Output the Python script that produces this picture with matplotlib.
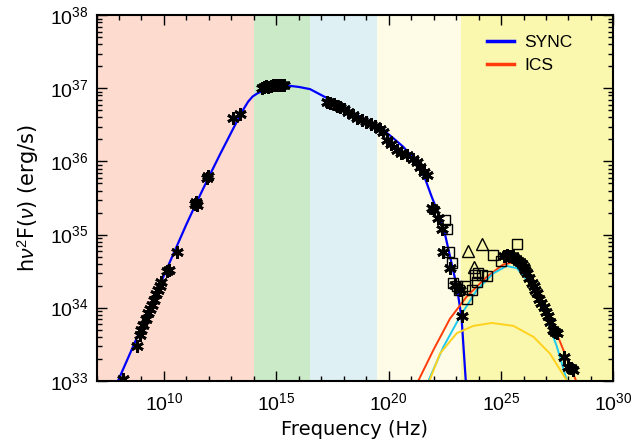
import numpy as np
import matplotlib
matplotlib.use("Agg")
import matplotlib.pyplot as plt
from matplotlib.ticker import FixedLocator, NullFormatter, FuncFormatter

plt.rcParams['mathtext.fontset'] = 'custom'
plt.rcParams['mathtext.rm'] = 'Liberation Sans'
plt.rcParams['mathtext.it'] = 'Liberation Sans:italic'
plt.rcParams['mathtext.bf'] = 'Liberation Sans:bold'
plt.rcParams['font.family'] = ['Liberation Sans', 'DejaVu Sans']

# ---- data (log10 frequency [Hz], log10 luminosity [erg/s]) ----
band_edges = [7, 14.0, 16.5, 19.5, 23.2, 30]
band_colors = ['#FDDBCF', '#CBEAC7', '#DEF0F4', '#FEFCE7', '#FAF7AE']

sync_lx = [7.96, 9.0, 10.0, 11.0, 11.5, 12.0, 12.5, 13.0, 13.3, 13.55, 13.75, 13.95, 14.15,
           14.42, 14.9, 15.46, 16.0, 16.5, 17.24, 17.8, 18.5, 19.2, 19.76, 20.2, 20.65,
           21.0, 21.39, 21.65, 21.91, 22.21, 22.51, 22.73, 23.03, 23.17, 23.25, 23.43]
sync_ly = [33.0, 33.73, 34.44, 35.14, 35.47, 35.79, 36.1, 36.4, 36.58, 36.72, 36.82, 36.89, 36.93,
           36.97, 37.02, 37.04, 37.02, 36.99, 36.87, 36.76, 36.65, 36.54, 36.43, 36.32, 36.2,
           36.08, 35.91, 35.74, 35.52, 35.29, 35.0, 34.70, 34.29, 34.01, 33.83, 33.0]

ics_lx = [21.32, 21.99, 22.73, 23.47, 24.36, 25.10, 25.55, 26.15, 26.74, 27.33, 27.63, 27.93, 28.34]
ics_ly = [33.0, 33.42, 33.85, 34.15, 34.42, 34.59, 34.62, 34.47, 34.15, 33.74, 33.53, 33.30, 33.0]

cyan_lx = [21.77, 22.43, 23.18, 23.92, 24.66, 25.25, 25.70, 26.29, 26.89, 27.48, 27.93]
cyan_ly = [33.0, 33.46, 33.88, 34.24, 34.47, 34.57, 34.54, 34.33, 33.97, 33.47, 33.0]

gold_lx = [21.82, 22.28, 23.03, 23.77, 24.59, 25.55, 26.44, 27.18, 27.93]
gold_ly = [33.0, 33.37, 33.65, 33.75, 33.79, 33.75, 33.60, 33.37, 33.0]

ast_lx = [8.19, 8.81, 8.95, 9.0, 9.08, 9.18, 9.30, 9.38, 9.45, 9.57, 9.65, 9.74, 9.82, 9.89,
          10.15, 10.22, 10.56, 11.38, 11.43, 11.48, 11.90, 11.95, 13.08, 13.38,
          14.35, 14.45, 14.55, 14.65, 14.75, 14.85, 14.95, 15.05, 15.15, 15.25, 15.35,
          17.24, 17.4, 17.55, 17.7, 17.85, 18.0, 18.2, 18.4, 18.6, 18.8, 19.0, 19.2, 19.4,
          19.6, 19.75, 19.91, 20.1, 20.36, 20.55, 20.8, 21.1, 21.25, 21.39, 21.55, 21.69,
          21.91, 22.0, 22.21, 22.36, 22.43, 22.73, 22.95, 23.17, 23.25,
          25.15, 25.25, 25.35, 25.45, 25.55, 25.65, 25.75, 25.85, 25.92, 26.0, 26.08, 26.15,
          26.25, 26.37, 26.45, 26.52, 26.59, 26.7, 26.8, 26.89, 27.0, 27.11, 27.2, 27.33,
          27.4, 27.48, 27.78, 28.0, 28.1, 28.22]
ast_ly = [33.02, 33.47, 33.62, 33.69, 33.76, 33.84, 33.92, 33.98, 34.04, 34.10, 34.18, 34.24, 34.30, 34.35,
          34.50, 34.52, 34.76, 35.42, 35.45, 35.40, 35.77, 35.80, 36.59, 36.65,
          37.0, 37.02, 37.03, 37.02, 37.03, 37.04, 37.04, 37.05, 37.04, 37.05, 37.05,
          36.82, 36.80, 36.78, 36.76, 36.74, 36.72, 36.68, 36.64, 36.60, 36.57, 36.54, 36.51, 36.48,
          36.45, 36.40, 36.29, 36.24, 36.16, 36.12, 36.09, 36.04, 35.99, 35.93, 35.86, 35.81,
          35.36, 35.33, 35.22, 35.08, 34.76, 34.54, 34.31, 34.24, 33.88,
          34.70, 34.72, 34.71, 34.70, 34.70, 34.67, 34.64, 34.62, 34.60, 34.56, 34.51, 34.47,
          34.41, 34.33, 34.29, 34.24, 34.20, 34.12, 34.06, 34.01, 33.94, 33.88, 33.80, 33.69,
          33.66, 33.65, 33.33, 33.19, 33.18, 33.15]

sq_lx = [22.51, 22.58, 22.70, 22.81, 22.88, 23.03, 23.15, 23.40, 23.47, 23.70, 23.84, 23.92,
         23.99, 24.14, 24.36, 24.63, 24.99, 25.70]
sq_ly = [35.2, 35.08, 34.76, 34.61, 34.33, 34.29, 34.24, 34.29, 34.12, 34.24, 34.45, 34.35,
         34.47, 34.45, 34.43, 34.72, 34.64, 34.87]

tri_lx = [23.55, 24.17, 23.81]
tri_ly = [34.77, 34.87, 34.56]

x_major = [10, 15, 20, 25, 30]
y_major = [33, 34, 35, 36, 37, 38]

# ---- figure ----
fig = plt.figure(figsize=(6.35, 4.44), dpi=100)
ax = fig.add_axes([0.152, 0.1426, 0.814, 0.8229])
ax.set_xscale('log')
ax.set_yscale('log')
ax.set_xlim(10.0**band_edges[0], 10.0**band_edges[-1])
ax.set_ylim(1e33, 1e38)

for i, c in enumerate(band_colors):
    ax.axvspan(10.0**band_edges[i], 10.0**band_edges[i + 1], color=c, lw=0, zorder=0)

p = lambda a: 10.0**np.asarray(a)
ax.plot(p(sync_lx), p(sync_ly), color='#0000FF', lw=1.6, zorder=3, label='SYNC')
ax.plot(p(ics_lx), p(ics_ly), color='#FF3C0A', lw=1.4, zorder=3, label='ICS')
ax.plot(p(cyan_lx), p(cyan_ly), color='#1EC8EE', lw=1.4, zorder=3)
ax.plot(p(gold_lx), p(gold_ly), color='#FFD21E', lw=1.4, zorder=3)

ax.plot(p(ast_lx), p(ast_ly), ls='none', marker=(6, 2, 0), ms=9, mew=2.0,
        color='black', zorder=5)
ax.plot(p(sq_lx), p(sq_ly), ls='none', marker='s', ms=7.5, mfc='none', mec='black',
        mew=1.0, zorder=6)
ax.plot(p(tri_lx), p(tri_ly), ls='none', marker='^', ms=8, mfc='none', mec='black',
        mew=1.0, zorder=6)

# ticks
ax.xaxis.set_major_locator(FixedLocator([10.0**v for v in x_major]))
ax.xaxis.set_minor_locator(FixedLocator([10.0**v for v in range(7, 31)]))
ax.yaxis.set_major_locator(FixedLocator([10.0**v for v in y_major]))
ax.yaxis.set_minor_locator(FixedLocator([m * 10.0**v for v in range(33, 38) for m in range(2, 10)]))
fmt = FuncFormatter(lambda v, pos: r'$\mathregular{10^{%d}}$' % int(round(np.log10(v))))
ax.xaxis.set_major_formatter(fmt)
ax.yaxis.set_major_formatter(fmt)
ax.xaxis.set_minor_formatter(NullFormatter())
ax.yaxis.set_minor_formatter(NullFormatter())
ax.tick_params(which='both', direction='in', top=True, right=True, labelsize=14)
ax.tick_params(which='major', length=7, width=1.0)
ax.tick_params(which='minor', length=3.5, width=1.0)
ax.tick_params(axis='x', which='major', pad=8)
ax.tick_params(axis='y', which='major', pad=6)
for s in ax.spines.values():
    s.set_linewidth(1.5)
    s.set_zorder(10)

ax.set_xlabel('Frequency (Hz)', fontsize=14, family='DejaVu Sans')
ax.set_ylabel(r'h$\nu^2$F($\nu$) (erg/s)', fontsize=15, family='DejaVu Sans')
ax.xaxis.set_label_coords(0.5, -0.108)
ax.yaxis.set_label_coords(-0.108, 0.5)

leg = ax.legend(loc='upper left', bbox_to_anchor=(0.755, 0.947), frameon=False,
                fontsize=12.5, borderpad=0, borderaxespad=0, handlelength=1.56,
                handletextpad=0.6, labelspacing=0.44)
for l in leg.get_lines():
    l.set_linewidth(2.5)

fig.savefig('out.png', dpi=100)
